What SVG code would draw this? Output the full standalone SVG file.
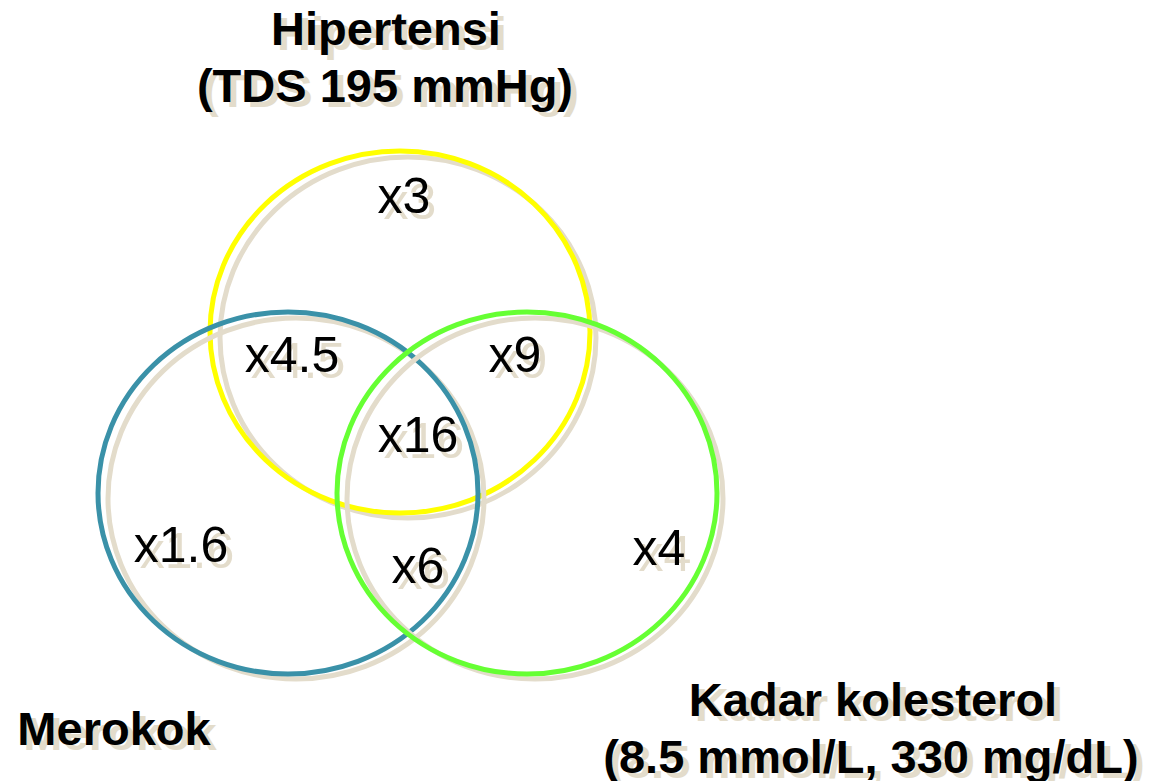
<svg xmlns="http://www.w3.org/2000/svg" width="1155" height="781" viewBox="0 0 1155 781">
<style>
.ring{fill:none;stroke-width:5}
.sh{fill:none;stroke:#e3dccb;stroke-width:5}
.t{font-family:"Liberation Sans",Arial,sans-serif;font-size:50px;text-anchor:middle;fill:#000}
.b{font-family:"Liberation Sans",Arial,sans-serif;font-size:47px;font-weight:bold;text-anchor:middle;fill:#000}
.ts{fill:#e3dccb}
</style>
<rect width="1155" height="781" fill="#fff"/>
<g id="hipertensi">
<ellipse class="sh" cx="408" cy="337.5" rx="188" ry="180.5"/>
<ellipse class="ring" cx="400" cy="332" rx="190" ry="181" stroke="#ffff00"/>
</g>
<g id="merokok">
<ellipse class="sh" cx="296" cy="498.5" rx="188" ry="180.5"/>
<ellipse class="ring" cx="288" cy="493" rx="190" ry="181" stroke="#3a91a8"/>
</g>
<g id="kolesterol">
<ellipse class="sh" cx="535" cy="498.5" rx="188" ry="180.5"/>
<ellipse class="ring" cx="527" cy="493" rx="190" ry="181" stroke="#66ff33"/>
</g>
<g id="connectors"/>
<g id="region-labels">
<g transform="translate(6,6)" class="ts">
<text class="t ts" x="404" y="213">x3</text>
<text class="t ts" x="292" y="372">x4.5</text>
<text class="t ts" x="515" y="372">x9</text>
<text class="t ts" x="418" y="452">x16</text>
<text class="t ts" x="181" y="562">x1.6</text>
<text class="t ts" x="418" y="583">x6</text>
<text class="t ts" x="659" y="565">x4</text>
</g>
<text class="t" x="404" y="213">x3</text>
<text class="t" x="292" y="372">x4.5</text>
<text class="t" x="515" y="372">x9</text>
<text class="t" x="418" y="452">x16</text>
<text class="t" x="181" y="562">x1.6</text>
<text class="t" x="418" y="583">x6</text>
<text class="t" x="659" y="565">x4</text>
</g>
<g id="titles">
<g transform="translate(6,5)">
<text class="b ts" x="386" y="45">Hipertensi</text>
<text class="b ts" x="385" y="102">(TDS 195 mmHg)</text>
<text class="b ts" x="114" y="745">Merokok</text>
<text class="b ts" x="873" y="716">Kadar kolesterol</text>
<text class="b ts" x="871" y="773">(8.5 mmol/L, 330 mg/dL)</text>
</g>
<text class="b" x="386" y="45">Hipertensi</text>
<text class="b" x="385" y="102">(TDS 195 mmHg)</text>
<text class="b" x="114" y="745">Merokok</text>
<text class="b" x="873" y="716">Kadar kolesterol</text>
<text class="b" x="871" y="773">(8.5 mmol/L, 330 mg/dL)</text>
</g>
</svg>
